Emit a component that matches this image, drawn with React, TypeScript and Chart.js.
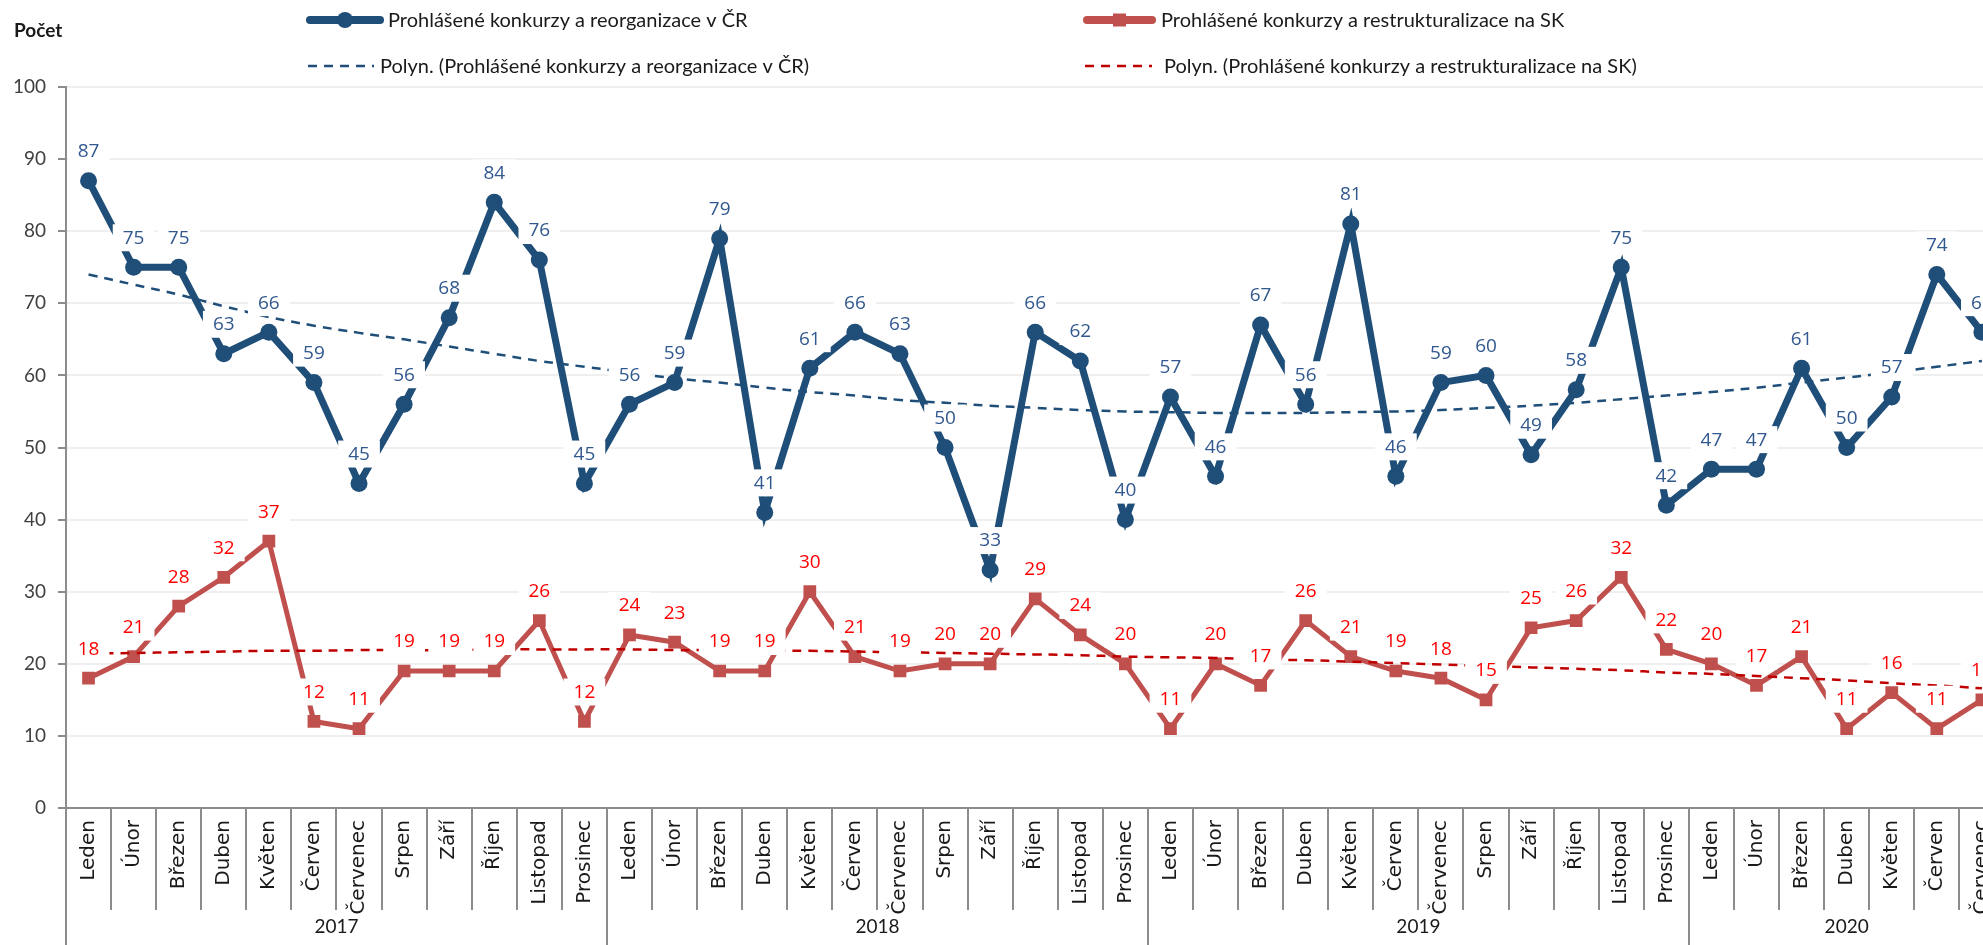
import React, { useEffect, useRef } from "react";
import { Chart, registerables } from "chart.js";

Chart.register(...registerables);

// ---------- DATA ----------
const monthNames = ["Leden", "Únor", "Březen", "Duben", "Květen", "Červen", "Červenec", "Srpen", "Září", "Říjen", "Listopad", "Prosinec"];
const years = ["2017", "2018", "2019", "2020"];
const monthsPerYear = [12, 12, 12, 7];

const czValues = [
  87, 75, 75, 63, 66, 59, 45, 56, 68, 84, 76, 45,
  56, 59, 79, 41, 61, 66, 63, 50, 33, 66, 62, 40,
  57, 46, 67, 56, 81, 46, 59, 60, 49, 58, 75, 42,
  47, 47, 61, 50, 57, 74, 66,
];
const skValues = [
  18, 21, 28, 32, 37, 12, 11, 19, 19, 19, 26, 12,
  24, 23, 19, 19, 30, 21, 19, 20, 20, 29, 24, 20,
  11, 20, 17, 26, 21, 19, 18, 15, 25, 26, 32, 22,
  20, 17, 21, 11, 16, 11, 15,
];
// trend lines
const czTrend = [
  74.0, 72.6, 71.2, 69.6, 68.1, 66.9, 65.9, 65.0, 64.0, 63.0, 62.0, 61.2,
  60.4, 59.6, 59.0, 58.3, 57.7, 57.2, 56.6, 56.2, 55.8, 55.5, 55.2, 55.0,
  54.9, 54.8, 54.8, 54.8, 54.9, 55.0, 55.2, 55.5, 55.8, 56.2, 56.7, 57.2,
  57.7, 58.3, 59.0, 59.7, 60.4, 61.2, 62.0,
];
const skTrend = [
  21.4, 21.5, 21.6, 21.7, 21.8, 21.8, 21.9, 21.9, 21.9, 22.0, 22.0, 22.0,
  22.0, 21.9, 21.9, 21.8, 21.8, 21.7, 21.6, 21.5, 21.4, 21.3, 21.2, 21.0,
  20.9, 20.8, 20.6, 20.5, 20.3, 20.1, 19.9, 19.7, 19.5, 19.3, 19.1, 18.8,
  18.6, 18.3, 18.0, 17.7, 17.3, 17.0, 16.6,
];
const seriesNames = [
  "Prohlášené konkurzy a reorganizace v ČR",
  "Prohlášené konkurzy a restrukturalizace na SK",
  "Polyn. (Prohlášené konkurzy a reorganizace v ČR)",
  "Polyn. (Prohlášené konkurzy a restrukturalizace na SK)",
];
const yAxisTitle = "Počet";

const monthLabels: string[] = [];
monthsPerYear.forEach((n) => {
  for (let i = 0; i < n; i++) monthLabels.push(monthNames[i]);
});

// ---------- STYLE ----------
const CZ_COLOR = "#1f4e79";
const CZ_LABEL = "#31588f";
const SK_COLOR = "#c0504d";
const SK_LABEL = "#ff0000";
const CZ_TREND = "#1f4e79";
const SK_TREND = "#c00000";
const AXIS_COLOR = "#8c8c8c";
const CALIBRI = "Lato, 'Open Sans', sans-serif";

const W = 2018;
const H = 945;

const valueLabelPlugin = {
  id: "valueLabels",
  afterDatasetsDraw(chart: any) {
    const ctx = chart.ctx;
    ctx.save();
    ctx.font = "19px 'Open Sans'";
    ctx.textAlign = "center";
    ctx.textBaseline = "middle";
    const items: any[] = [];
    [0, 1].forEach((di) => {
      const meta = chart.getDatasetMeta(di);
      const ds = chart.data.datasets[di];
      meta.data.forEach((pt: any, i: number) => {
        items.push({ x: pt.x, y: pt.y - 30, text: String(ds.data[i]), color: di === 0 ? CZ_LABEL : SK_LABEL });
      });
    });
    ctx.fillStyle = "#ffffff";
    items.forEach((it) => {
      const w = ctx.measureText(it.text).width;
      ctx.fillRect(it.x - w / 2 - 10, it.y - 13, w + 20, 27);
    });
    items.forEach((it) => {
      ctx.fillStyle = it.color;
      ctx.fillText(it.text, it.x, it.y + 1);
    });
    ctx.restore();
  },
};

const decorPlugin = {
  id: "decor",
  afterDraw(chart: any) {
    const ctx = chart.ctx;
    const xs = chart.scales.x;
    const area = chart.chartArea;
    const n = monthLabels.length;
    const top = xs.top;
    const boundary = (i: number) => {
      if (i === 0) return area.left;
      if (i >= n) return area.right;
      return (xs.getPixelForValue(i - 1) + xs.getPixelForValue(i)) / 2;
    };
    ctx.save();
    ctx.strokeStyle = AXIS_COLOR;
    ctx.lineWidth = 2;
    let idx = 0;
    const yearStarts: number[] = [];
    monthsPerYear.forEach((m) => {
      yearStarts.push(idx);
      idx += m;
    });
    for (let i = 0; i < n; i++) {
      const bx = Math.round(boundary(i));
      const isYear = yearStarts.indexOf(i) >= 0;
      ctx.beginPath();
      ctx.moveTo(bx, top);
      ctx.lineTo(bx, isYear ? H : 910);
      ctx.stroke();
    }
    ctx.fillStyle = "#1a1a1a";
    ctx.font = "19px " + CALIBRI;
    ctx.textAlign = "center";
    ctx.textBaseline = "middle";
    yearStarts.forEach((s, k) => {
      const a = boundary(s);
      const b = boundary(s + monthsPerYear[k]);
      ctx.fillText(years[k], (a + b) / 2, 927);
    });

    ctx.font = "bold 19px " + CALIBRI;
    ctx.textAlign = "left";
    ctx.fillStyle = "#1a1a1a";
    ctx.fillText(yAxisTitle, 14, 31);

    const ds = chart.data.datasets;
    ctx.font = "20px " + CALIBRI;
    ctx.textBaseline = "middle";
    const drawLineSym = (x1: number, x2: number, y: number, color: string, width: number, marker: string) => {
      ctx.save();
      ctx.strokeStyle = color;
      ctx.lineWidth = width;
      ctx.lineCap = "round";
      ctx.beginPath();
      ctx.moveTo(x1, y);
      ctx.lineTo(x2, y);
      ctx.stroke();
      ctx.fillStyle = color;
      const cx = (x1 + x2) / 2;
      if (marker === "circle") {
        ctx.beginPath();
        ctx.arc(cx, y, 8, 0, Math.PI * 2);
        ctx.fill();
      } else {
        ctx.fillRect(cx - 6.5, y - 6.5, 13, 13);
      }
      ctx.restore();
    };
    const drawDashSym = (x1: number, x2: number, y: number, color: string) => {
      ctx.save();
      ctx.strokeStyle = color;
      ctx.lineWidth = 2.5;
      ctx.setLineDash([9, 7]);
      ctx.beginPath();
      ctx.moveTo(x1, y);
      ctx.lineTo(x2, y);
      ctx.stroke();
      ctx.restore();
    };
    drawLineSym(310, 380, 20, ds[0].borderColor, 8, "circle");
    drawLineSym(1087, 1152, 20, ds[1].borderColor, 8, "rect");
    drawDashSym(308, 374, 66, ds[2].borderColor);
    drawDashSym(1085, 1152, 66, ds[3].borderColor);
    ctx.fillStyle = "#1a1a1a";
    ctx.textAlign = "left";
    ctx.fillText(ds[0].label, 388, 21);
    ctx.fillText(ds[1].label, 1161, 21);
    ctx.fillText(ds[2].label, 380, 67);
    ctx.fillText(ds[3].label, 1164, 67);
    ctx.restore();
  },
};

export default function App() {
  const ref = useRef<HTMLCanvasElement | null>(null);
  useEffect(() => {
    if (!ref.current) return;
    const chart = new Chart(ref.current, {
      type: "line",
      data: {
        labels: monthLabels,
        datasets: [
          {
            label: seriesNames[0],
            data: czValues,
            borderColor: CZ_COLOR,
            backgroundColor: CZ_COLOR,
            borderWidth: 7,
            pointStyle: "circle",
            pointRadius: 8.5,
            pointBorderWidth: 0,
            pointBackgroundColor: CZ_COLOR,
            tension: 0,
            order: 1,
          },
          {
            label: seriesNames[1],
            data: skValues,
            borderColor: SK_COLOR,
            backgroundColor: SK_COLOR,
            borderWidth: 5,
            pointStyle: "rect",
            pointRadius: 9,
            pointBorderWidth: 0,
            pointBackgroundColor: SK_COLOR,
            tension: 0,
            order: 2,
          },
          {
            label: seriesNames[2],
            data: czTrend,
            borderColor: CZ_TREND,
            borderWidth: 2.5,
            borderDash: [9, 7],
            pointRadius: 0,
            tension: 0.4,
            order: 0,
          },
          {
            label: seriesNames[3],
            data: skTrend,
            borderColor: SK_TREND,
            borderWidth: 2.5,
            borderDash: [9, 7],
            pointRadius: 0,
            tension: 0.4,
            order: 0,
          },
        ],
      },
      options: {
        responsive: false,
        animation: false,
        events: [],
        layout: { padding: { top: 87, right: 1, left: 0, bottom: 0 } },
        plugins: { legend: { display: false }, tooltip: { enabled: false } },
        scales: {
          x: {
            type: "category",
            offset: true,
            grid: { display: false, drawTicks: false },
            border: { display: true, color: AXIS_COLOR, width: 2 },
            ticks: {
              autoSkip: false,
              minRotation: 90,
              maxRotation: 90,
              padding: 12,
              color: "#1a1a1a",
              font: { family: "'DejaVu Sans'", size: 20 },
            },
            afterFit(s: any) {
              s.height = 137;
            },
          },
          y: {
            min: 0,
            max: 100,
            ticks: {
              stepSize: 10,
              padding: 12,
              color: "#404040",
              font: { family: CALIBRI, size: 19 },
            },
            grid: { color: "#efefef", lineWidth: 2, tickLength: 8, tickColor: AXIS_COLOR },
            border: { color: AXIS_COLOR, width: 2 },
            afterFit(s: any) {
              s.width = 66;
            },
          },
        },
      },
      plugins: [valueLabelPlugin, decorPlugin],
    } as any);
    return () => chart.destroy();
  }, []);
  return (
    <div style={{ position: "fixed", left: 0, top: 0, width: 1983, height: 945, overflow: "hidden", background: "#fff" }}>
      <canvas ref={ref} width={W} height={H} style={{ width: W, height: H, display: "block" }} />
    </div>
  );
}
